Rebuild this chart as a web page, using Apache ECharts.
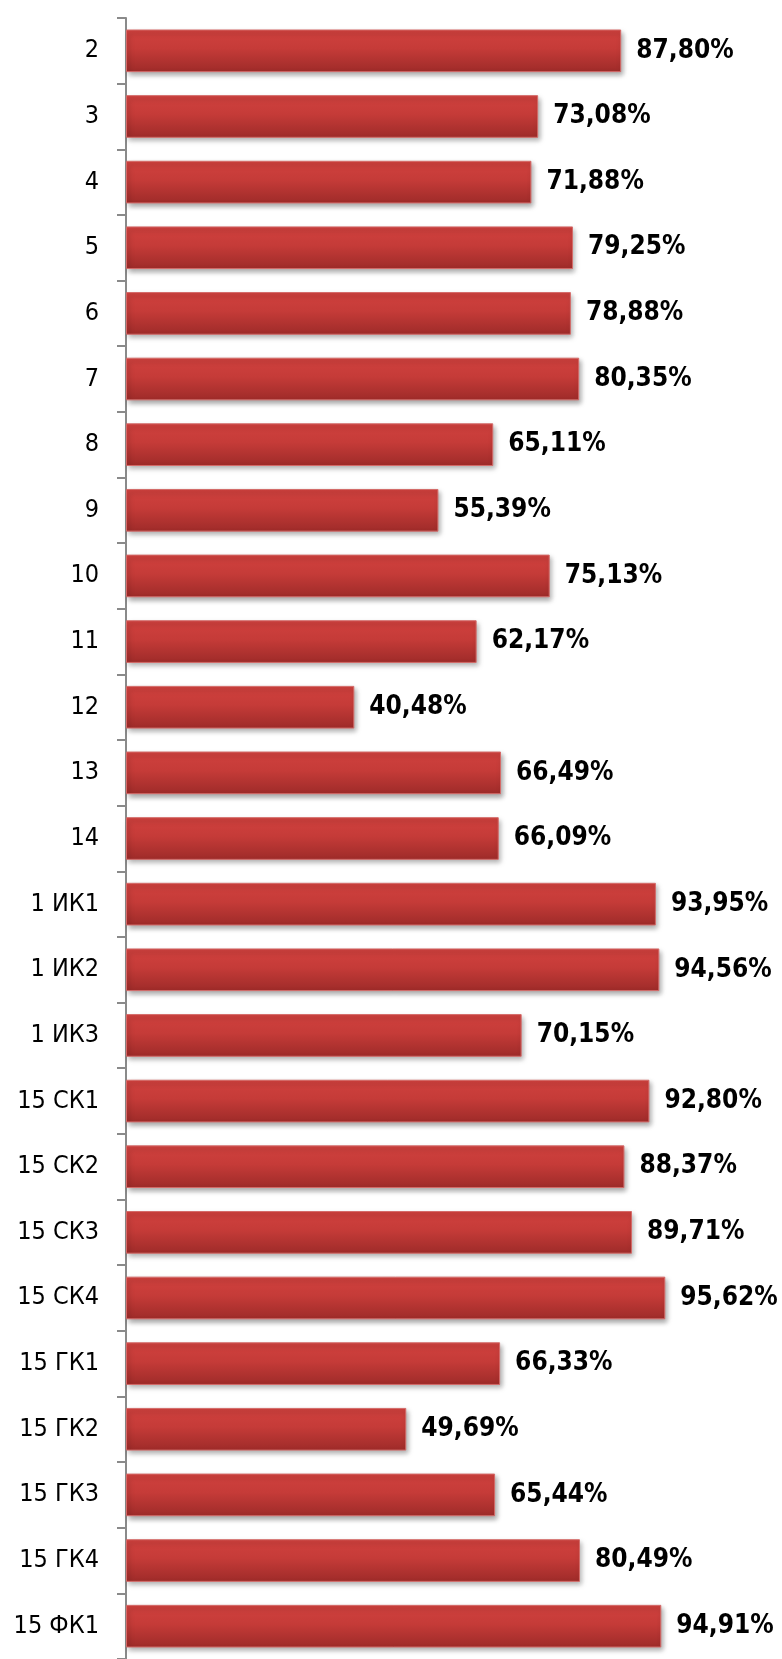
<!DOCTYPE html>
<html>
<head>
<meta charset="utf-8">
<script src="https://cdn.jsdelivr.net/npm/echarts@6/dist/echarts.min.js"></script>
<style>
  html, body { margin: 0; padding: 0; background: #fff; }
  #chart { width: 782px; height: 1659px; }
</style>
</head>
<body>
<div id="chart"></div>
<script>
// categories, top to bottom
const groups = [
  '2', '3', '4', '5', '6', '7', '8', '9', '10', '11', '12', '13', '14',
  '1 ИК1', '1 ИК2', '1 ИК3',
  '15 СК1', '15 СК2', '15 СК3', '15 СК4',
  '15 ГК1', '15 ГК2', '15 ГК3', '15 ГК4',
  '15 ФК1'
];

// percentage per group
const shares = [
  87.80, 73.08, 71.88, 79.25, 78.88, 80.35, 65.11, 55.39, 75.13, 62.17, 40.48,
  66.49, 66.09, 93.95, 94.56, 70.15, 92.80, 88.37, 89.71, 95.62, 66.33, 49.69,
  65.44, 80.49, 94.91
];

const FONT = '"DejaVu Sans Condensed", "DejaVu Sans", sans-serif';

const chart = echarts.init(document.getElementById('chart'));

chart.setOption({
  animation: false,
  grid: {
    left: 126,
    right: 92,
    top: 18,
    bottom: -7,
    containLabel: false
  },
  xAxis: {
    type: 'value',
    min: 0,
    max: 100,
    show: false
  },
  yAxis: {
    type: 'category',
    data: groups,
    inverse: true,
    axisLine: {
      show: true,
      lineStyle: { color: '#8a8a8a', width: 2 }
    },
    axisTick: {
      show: true,
      length: 9,
      alignWithLabel: false,
      lineStyle: { color: '#8a8a8a', width: 2 }
    },
    axisLabel: {
      color: '#000',
      fontFamily: FONT,
      fontSize: 25,
      margin: 27
    },
    splitLine: { show: false }
  },
  series: [
    {
      type: 'bar',
      data: shares,
      barWidth: '65%',
      itemStyle: {
        color: new echarts.graphic.LinearGradient(0, 0, 0, 1, [
          { offset: 0, color: '#d0413e' },
          { offset: 0.45, color: '#c53b38' },
          { offset: 1, color: '#9e2b29' }
        ]),
        borderColor: '#d46b69',
        borderWidth: 1,
        shadowBlur: 5,
        shadowOffsetX: 2,
        shadowOffsetY: 3,
        shadowColor: 'rgba(0,0,0,0.35)'
      },
      label: {
        show: true,
        position: 'right',
        distance: 15,
        color: '#000',
        fontFamily: FONT,
        fontWeight: 'bold',
        fontSize: 26,
        formatter: p => p.value.toFixed(2).replace('.', ',') + '%'
      }
    }
  ]
});
</script>
</body>
</html>
